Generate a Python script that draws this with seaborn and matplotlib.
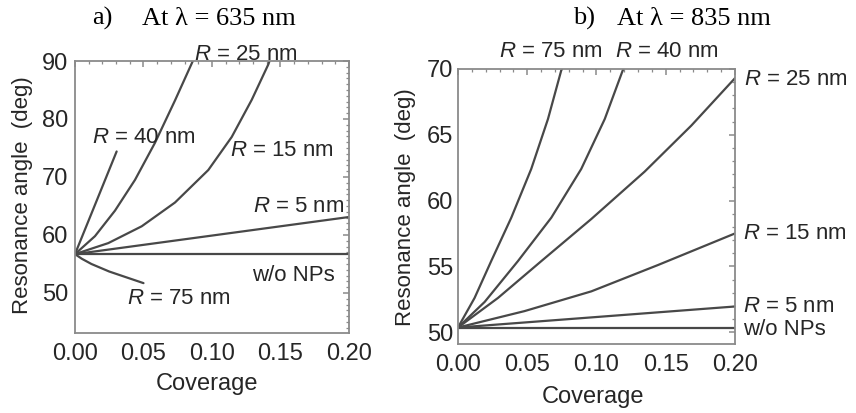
import numpy as np
import pandas as pd
import matplotlib
matplotlib.use("Agg")
import matplotlib.pyplot as plt
from matplotlib.ticker import MultipleLocator
import seaborn as sns

# ---- resonance angle vs. coverage at 635 nm ----
cov_635_bare = [0.0, 0.2]
ang_635_bare = [56.7, 56.7]
cov_635_r5 = [0.0, 0.2]
ang_635_r5 = [56.7, 63.1]
cov_635_r15 = [0.0, 0.0243, 0.0487, 0.073, 0.0973, 0.1144, 0.129, 0.1411, 0.142]
ang_635_r15 = [56.7, 58.6, 61.5, 65.6, 71.2, 76.9, 83.3, 89.4, 90.0]
cov_635_r25 = [0.0, 0.0146, 0.0292, 0.0438, 0.0584, 0.073, 0.0864]
ang_635_r25 = [56.7, 59.8, 64.2, 69.5, 75.9, 83.2, 90.2]
cov_635_r40 = [0.0, 0.0304]
ang_635_r40 = [56.7, 74.4]
cov_635_r75 = [0.0, 0.005, 0.012, 0.025, 0.05]
ang_635_r75 = [56.7, 55.9, 55.0, 53.7, 51.7]

# ---- resonance angle vs. coverage at 835 nm ----
cov_835_bare = [0.0, 0.2]
ang_835_bare = [50.35, 50.35]
cov_835_r5 = [0.0, 0.2]
ang_835_r5 = [50.35, 51.95]
cov_835_r15 = [0.0, 0.0481, 0.0963, 0.1444, 0.2]
ang_835_r15 = [50.35, 51.6, 53.1, 55.1, 57.5]
cov_835_r25 = [0.0, 0.0289, 0.0602, 0.0963, 0.1348, 0.1685, 0.2]
ang_835_r25 = [50.35, 52.6, 55.4, 58.6, 62.2, 65.7, 69.3]
cov_835_r40 = [0.0, 0.0193, 0.0433, 0.0674, 0.089, 0.106, 0.119, 0.1195]
ang_835_r40 = [50.35, 52.3, 55.4, 58.7, 62.4, 66.2, 69.9, 70.0]
cov_835_r75 = [0.0, 0.012, 0.024, 0.0385, 0.0529, 0.065, 0.0746, 0.0752]
ang_835_r75 = [50.35, 52.6, 55.4, 58.7, 62.4, 66.2, 69.9, 70.0]

x_ticks = [0.00, 0.05, 0.10, 0.15, 0.20]
x_tick_labels = ["0.00", "0.05", "0.10", "0.15", "0.20"]
y_ticks_635 = [50, 60, 70, 80, 90]
y_ticks_835 = [50, 55, 60, 65, 70]

sns.set_theme(style="white")
plt.rcParams["font.family"] = ["Liberation Sans", "DejaVu Sans"]
plt.rcParams["mathtext.fontset"] = "custom"
plt.rcParams["mathtext.rm"] = "Liberation Sans"
plt.rcParams["mathtext.it"] = "Liberation Sans:italic"

TXT = "#262626"
LINE = "#484848"
FRAME = "#8a8a8a"
FS = 16
TICK_FS = 17

fig = plt.figure(figsize=(8.56, 4.13), dpi=100)
ax_a = fig.add_axes([0.0876, 0.1937, 0.3201, 0.6586])
ax_b = fig.add_axes([0.5350, 0.1671, 0.3236, 0.6659])


def draw_series(ax, groups):
    for cov, ang in groups:
        sns.lineplot(x=cov, y=ang, ax=ax, color=LINE, lw=1.6, sort=False,
                     estimator=None, solid_joinstyle="round")


draw_series(ax_a, [(cov_635_bare, ang_635_bare), (cov_635_r5, ang_635_r5),
                   (cov_635_r15, ang_635_r15), (cov_635_r25, ang_635_r25),
                   (cov_635_r40, ang_635_r40), (cov_635_r75, ang_635_r75)])
draw_series(ax_b, [(cov_835_bare, ang_835_bare), (cov_835_r5, ang_835_r5),
                   (cov_835_r15, ang_835_r15), (cov_835_r25, ang_835_r25),
                   (cov_835_r40, ang_835_r40), (cov_835_r75, ang_835_r75)])

ax_a.set_xlim(0, 0.2)
ax_a.set_ylim(43.1, 90)
ax_b.set_xlim(0, 0.2)
ax_b.set_ylim(49.1, 70)

for ax, yt in [(ax_a, y_ticks_635), (ax_b, y_ticks_835)]:
    ax.set_xticks(x_ticks)
    ax.set_xticklabels(x_tick_labels)
    ax.set_yticks(yt)
    ax.set_yticklabels([str(v) for v in yt])
    ax.xaxis.set_minor_locator(MultipleLocator(0.01))
    ax.yaxis.set_minor_locator(MultipleLocator(1.0))
    ax.tick_params(which="both", direction="in", top=True, right=True,
                   color=FRAME, labelcolor=TXT, labelsize=TICK_FS)
    ax.tick_params(which="major", length=4, width=1.1)
    ax.tick_params(which="minor", length=2, width=0.9)
    ax.tick_params(axis="x", pad=7)
    for s in ax.spines.values():
        s.set_color(FRAME)
        s.set_linewidth(1.3)
    ax.set_xlabel("Coverage", fontsize=17, color=TXT)
    ax.set_ylabel("Resonance angle  (deg)", fontsize=FS, color=TXT)
    ax.xaxis.label.set_va("center")
    ax.yaxis.label.set_va("center")

ax_a.tick_params(axis="y", pad=5)
ax_b.tick_params(axis="y", pad=3.5)
ax_a.xaxis.set_label_coords(0.482, -0.188)
ax_a.yaxis.set_label_coords(-0.193, 0.507)
ax_b.xaxis.set_label_coords(0.486, -0.193)
ax_b.yaxis.set_label_coords(-0.191, 0.498)

# curve annotations
lbl = dict(fontsize=FS, color=TXT, clip_on=False)
ax_a.text(0.1248, 91.2, "$R$ = 25 nm", ha="center", va="center", **lbl)
ax_a.text(0.0504, 76.8, "$R$ = 40 nm", ha="center", va="center", **lbl)
ax_a.text(0.1510, 74.5, "$R$ = 15 nm", ha="center", va="center", **lbl)
ax_a.text(0.1630, 64.9, "$R$ = 5 nm", ha="center", va="center", **lbl)
ax_a.text(0.1595, 53.0, "w/o NPs", ha="center", va="center", **lbl)
ax_a.text(0.0755, 49.05, "$R$ = 75 nm", ha="center", va="center", **lbl)

ax_b.text(0.0668, 71.36, "$R$ = 75 nm", ha="center", va="center", **lbl)
ax_b.text(0.1510, 71.36, "$R$ = 40 nm", ha="center", va="center", **lbl)
ax_b.text(0.2065, 69.2, "$R$ = 25 nm", ha="left", va="center", **lbl)
ax_b.text(0.2060, 57.46, "$R$ = 15 nm", ha="left", va="center", **lbl)
ax_b.text(0.2060, 51.93, "$R$ = 5 nm", ha="left", va="center", **lbl)
ax_b.text(0.2060, 50.23, "w/o NPs", ha="left", va="center", **lbl)

# panel headings
head = dict(fontsize=19, color="black", family=["Liberation Serif", "DejaVu Serif"],
            va="baseline", ha="left")
fig.text(92 / 856, 1 - 25 / 413, "a)", **head)
fig.text(142 / 856, 1 - 25 / 413, "At λ = 635 nm", **head)
fig.text(573 / 856, 1 - 25 / 413, "b)", **head)
fig.text(617 / 856, 1 - 25 / 413, "At λ = 835 nm", **head)

fig.savefig("out.png", dpi=100, facecolor="white")
